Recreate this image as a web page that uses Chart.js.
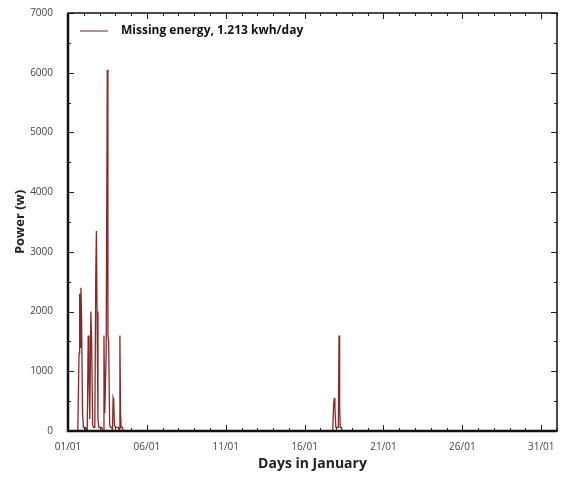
<!DOCTYPE html>
<html>
<head>
<meta charset="utf-8">
<script src="https://cdn.jsdelivr.net/npm/chart.js@4"></script>
<style>
  html, body { margin: 0; padding: 0; background: #fff; }
  #wrap { width: 566px; height: 477px; }
</style>
</head>
<body>
<div id="wrap"><canvas id="power-graph"></canvas></div>
<script>
// time in days since 01/01 00:00, power in watts
const dayTimes = [
  0, 0.62, 0.70, 0.74, 0.78, 0.82, 0.86, 0.92, 0.98, 1.10, 1.14,
  1.22, 1.28, 1.33, 1.38, 1.45, 1.50, 1.56, 1.62,
  1.70, 1.76, 1.80, 1.84, 1.90, 1.96, 2.15, 2.18,
  2.22, 2.28, 2.33, 2.42, 2.49, 2.53, 2.58, 2.64, 2.70, 2.78,
  2.82, 2.86, 2.90, 2.94, 3.00, 3.20,
  3.24, 3.29, 3.33, 3.37, 3.45, 3.50,
  16.78, 16.84, 16.88, 16.92, 16.98, 17.14, 17.18, 17.22, 17.26, 17.34, 17.38,
  31
];
const powerWatts = [
  0, 0, 1300, 2300, 1400, 2400, 1900, 300, 60, 60, 0,
  0, 1600, 900, 200, 2000, 1500, 100, 60,
  60, 2600, 3350, 2000, 200, 60, 60, 0,
  0, 1600, 300, 1300, 6050, 1600, 1500, 100, 60, 60,
  0, 550, 500, 100, 60, 60,
  0, 1600, 300, 60, 60, 0,
  0, 450, 550, 400, 60, 60, 1600, 400, 60, 60, 0,
  0
];
const tickDays = [0, 5, 10, 15, 20, 25, 30];
const dayLabels = ["01/01", "06/01", "11/01", "16/01", "21/01", "26/01", "31/01"];
const powerTicks = [0, 1000, 2000, 3000, 4000, 5000, 6000, 7000];

const lineColor = "#8e2626";
const tickFont = { family: "Open Sans", size: 10 };

// frame, inward tick marks and the legend inside the plot
const framePlugin = {
  id: "frame",
  afterDraw(chart) {
    const c = chart.ctx;
    const a = chart.chartArea;
    const xs = chart.scales.x;
    const ys = chart.scales.y;
    c.save();
    c.strokeStyle = "#222";
    c.lineWidth = 1;
    c.beginPath();
    for (let d = 0; d <= 31; d++) {
      const px = Math.round(xs.getPixelForValue(d)) + 0.5;
      const len = d % 5 === 0 ? 6 : 3;
      c.moveTo(px, a.bottom); c.lineTo(px, a.bottom - len);
      c.moveTo(px, a.top); c.lineTo(px, a.top + len);
    }
    for (let v = 0; v <= 7000; v += 500) {
      const py = Math.round(ys.getPixelForValue(v)) + 0.5;
      const len = v % 1000 === 0 ? 6 : 3;
      c.moveTo(a.left, py); c.lineTo(a.left + len, py);
      c.moveTo(a.right, py); c.lineTo(a.right - len, py);
    }
    c.stroke();
    c.strokeStyle = "#111";
    c.lineWidth = 1.5;
    c.strokeRect(a.left, a.top, a.right - a.left, a.bottom - a.top);
    // left and bottom edges are heavier
    c.lineWidth = 2.5;
    c.beginPath();
    c.moveTo(a.left, a.top); c.lineTo(a.left, a.bottom); c.lineTo(a.right, a.bottom);
    c.stroke();

    const ds = chart.data.datasets[0];
    c.strokeStyle = "#9a7070";
    c.lineWidth = 1.5;
    c.beginPath();
    c.moveTo(80, 31); c.lineTo(108, 31);
    c.stroke();
    c.fillStyle = "#111";
    c.font = "bold 12px 'Open Sans'";
    c.textBaseline = "middle";
    c.fillText(ds.label, 121, 31);
    c.restore();
  },
};

const powerChart = new Chart(document.getElementById("power-graph"), {
  type: "line",
  data: {
    datasets: [
      {
        label: "Missing energy, 1.213 kwh/day",
        data: dayTimes.map((t, i) => ({ x: t, y: powerWatts[i] })),
        borderColor: lineColor,
        backgroundColor: lineColor,
        borderWidth: 1.3,
        pointRadius: 0,
        tension: 0,
      },
    ],
  },
  options: {
    responsive: true,
    maintainAspectRatio: false,
    animation: false,
    layout: { padding: { top: 10, right: 9, left: 0, bottom: 0 } },
    plugins: {
      legend: { display: false },
      tooltip: { enabled: false },
    },
    scales: {
      x: {
        type: "linear",
        min: 0,
        max: 31,
        afterBuildTicks: (s) => { s.ticks = tickDays.map((v) => ({ value: v })); },
        afterFit: (s) => { s.height = 46; },
        grid: { display: false },
        border: { display: false },
        ticks: {
          autoSkip: false,
          maxRotation: 0,
          padding: 2,
          color: "#444",
          font: tickFont,
          callback: (v) => dayLabels[tickDays.indexOf(v)],
        },
        title: {
          display: true,
          text: "Days in January",
          color: "#222",
          font: { family: "Open Sans", size: 14, weight: "bold" },
          padding: { top: 0, bottom: 5 },
        },
      },
      y: {
        min: 0,
        max: 7000,
        afterBuildTicks: (s) => { s.ticks = powerTicks.map((v) => ({ value: v })); },
        afterFit: (s) => { s.width = 68; },
        grid: { display: false },
        border: { display: false },
        ticks: {
          padding: 7,
          color: "#444",
          font: tickFont,
          callback: (v) => String(v),
        },
        title: {
          display: true,
          text: "Power (w)",
          color: "#222",
          font: { family: "Open Sans", size: 13, weight: "bold" },
          padding: { top: 12, bottom: 0 },
        },
      },
    },
  },
  plugins: [framePlugin],
});
</script>
</body>
</html>
